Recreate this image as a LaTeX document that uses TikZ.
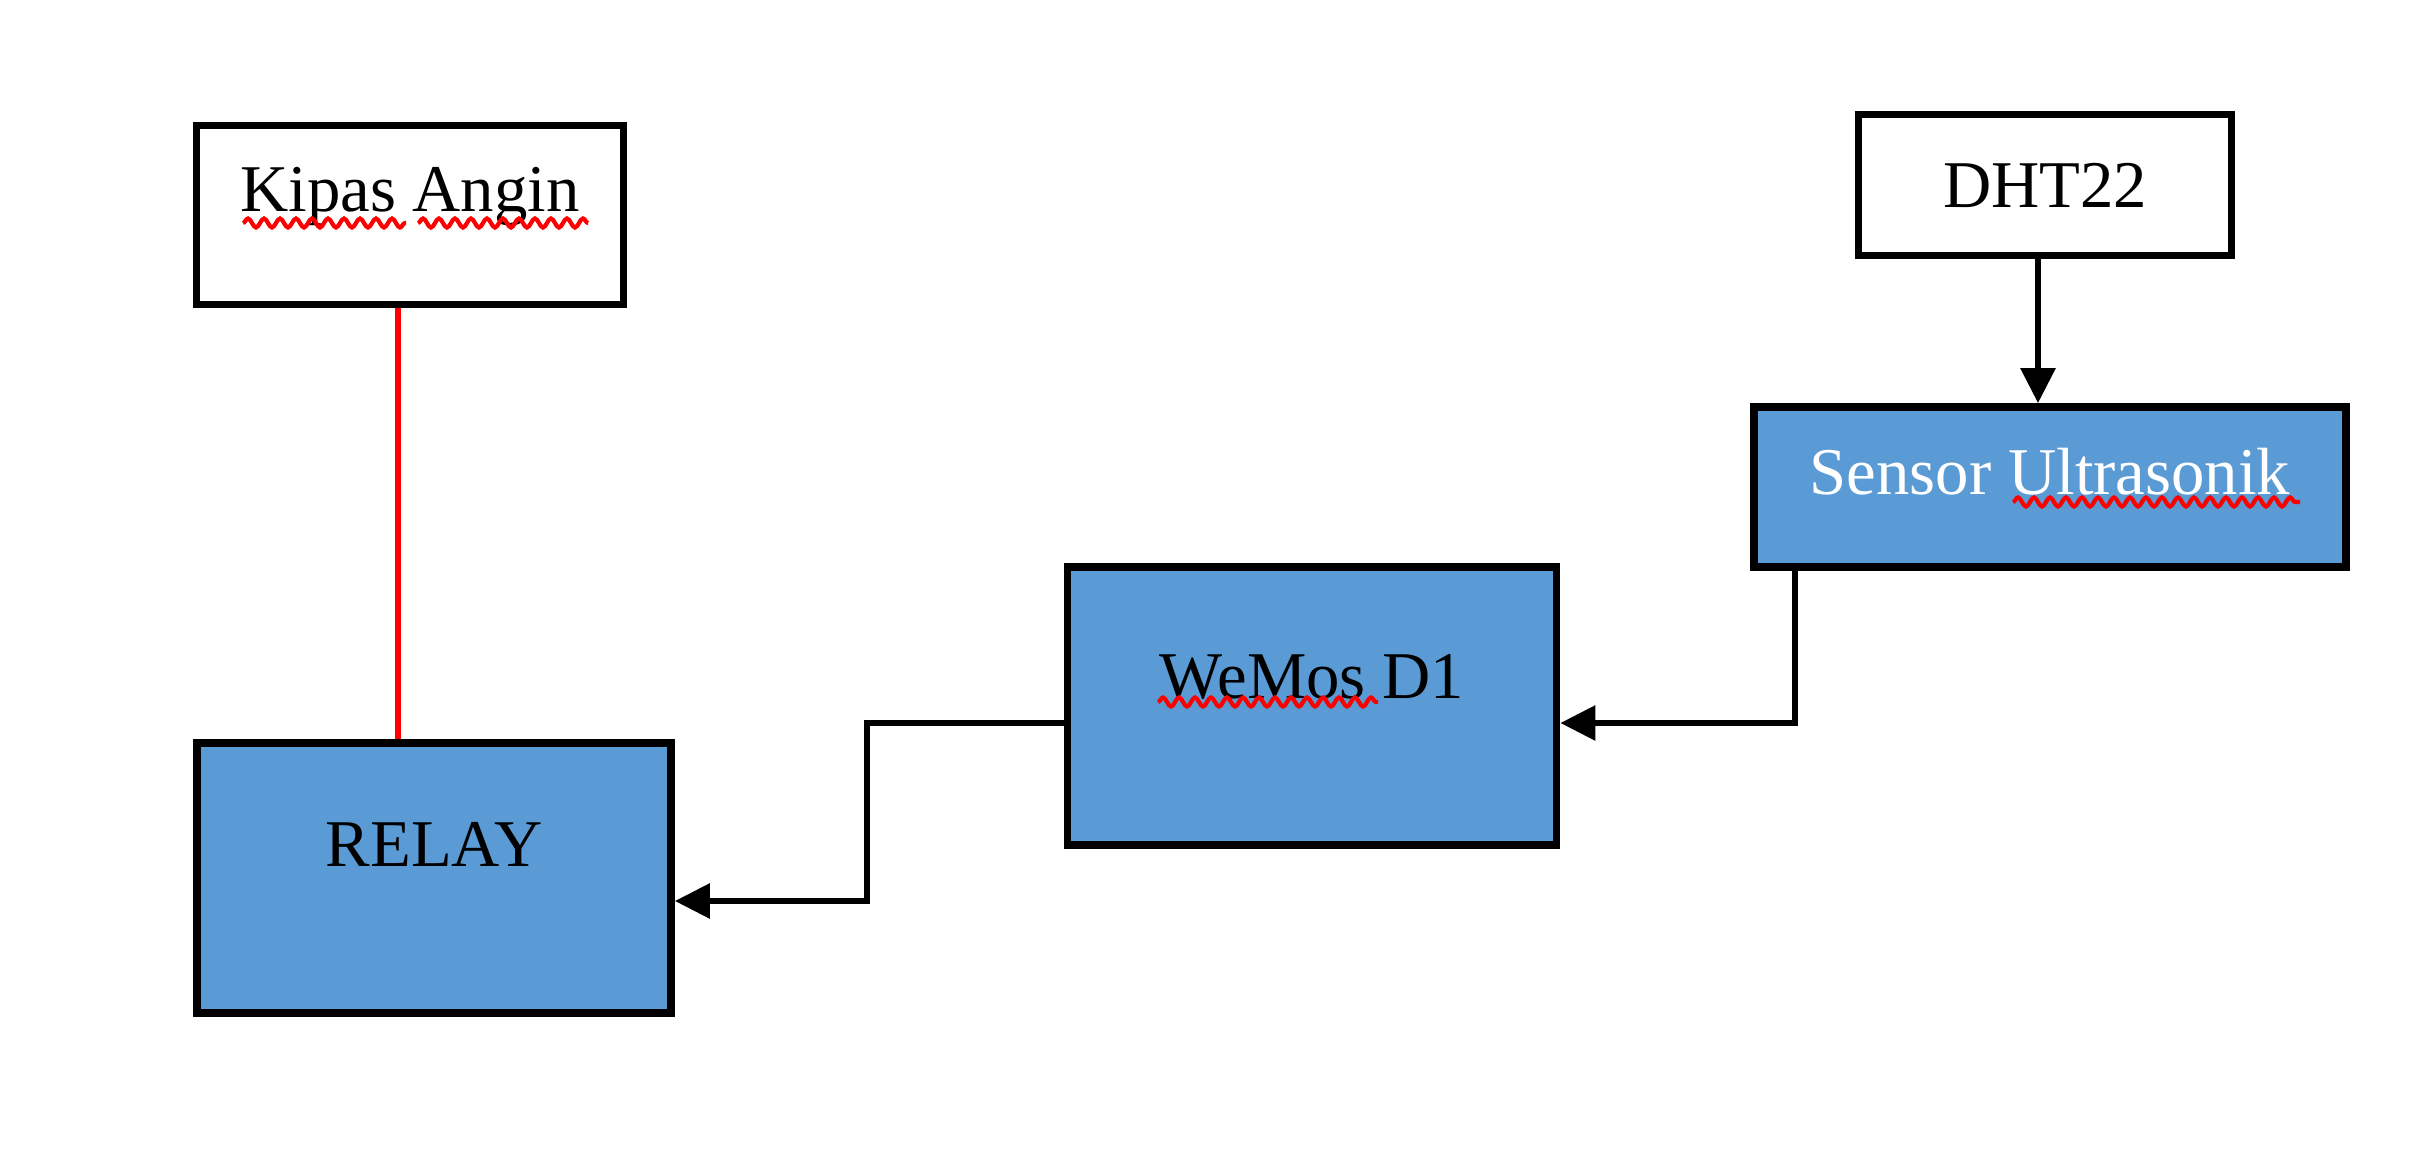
\documentclass[tikz,border=0pt]{standalone}
\usepackage{fontspec}
\setmainfont{Liberation Serif}
\usetikzlibrary{arrows.meta,decorations.pathmorphing}
\definecolor{boxblue}{RGB}{91,155,213}

\begin{document}
\begin{tikzpicture}[
  whitebox/.style={draw=black, line width=2.2pt, fill=white},
  bluebox/.style={draw=black, line width=2.2pt, fill=boxblue},
  lbl/.style={font=\fontsize{19}{23}\selectfont, inner sep=0pt},
  wire/.style={black, line width=1.7pt, -{Triangle[length=3.5mm,width=3.4mm]}},
  spell/.style={red, line width=1.2pt, decorate, decoration={snake, amplitude=0.45mm, segment length=1.6mm}}
]
\useasboundingbox (0,0) rectangle (24.28,11.6);

% boxes
\node[whitebox, minimum width=4.27cm, minimum height=1.79cm] (kipas) at (4.10,9.45) {};
\node[whitebox, minimum width=3.73cm, minimum height=1.41cm] (dht) at (20.45,9.75) {};
\node[bluebox, minimum width=5.92cm, minimum height=1.60cm] (sensor) at (20.50,6.73) {};
\node[bluebox, minimum width=4.89cm, minimum height=2.78cm] (wemos) at (13.12,4.54) {};
\node[bluebox, minimum width=4.74cm, minimum height=2.70cm] (relay) at (4.34,2.82) {};

% labels
\node[lbl] (kipastxt) at ([yshift=1.8mm]kipas.center) {Kipas Angin};
\node[lbl] (dhttxt) at (dht.center) {DHT22};
\node[lbl, text=white] (sensortxt) at ([yshift=1.5mm]sensor.center) {Sensor Ultrasonik};
\node[lbl] (wemostxt) at ([yshift=2.9mm]wemos.center) {WeMos D1};
\node[lbl] (relaytxt) at ([yshift=3.4mm]relay.center) {RELAY};

% spelling marks
\draw[spell] (2.43,9.37) -- (4.06,9.37);
\draw[spell] (4.18,9.37) -- (5.88,9.37);
\draw[spell] (20.13,6.58) -- (23.00,6.58);
\draw[spell] (11.58,4.58) -- (13.78,4.58);

% connections
\draw[red, line width=1.7pt] ([xshift=-1.2mm]kipas.south) -- ([xshift=-1.2mm]kipas.south |- relay.north);
\draw[wire] ([xshift=-0.7mm]dht.south) -- ([xshift=-0.7mm]dht.south |- sensor.north);
\draw[wire] ([xshift=4.5mm]sensor.south west) |- ([yshift=-1.7mm]wemos.east);
\draw[wire] ([yshift=-1.7mm]wemos.west) -- ++(-1.97,0) |- ([yshift=-2.3mm]relay.east);

\end{tikzpicture}
\end{document}
